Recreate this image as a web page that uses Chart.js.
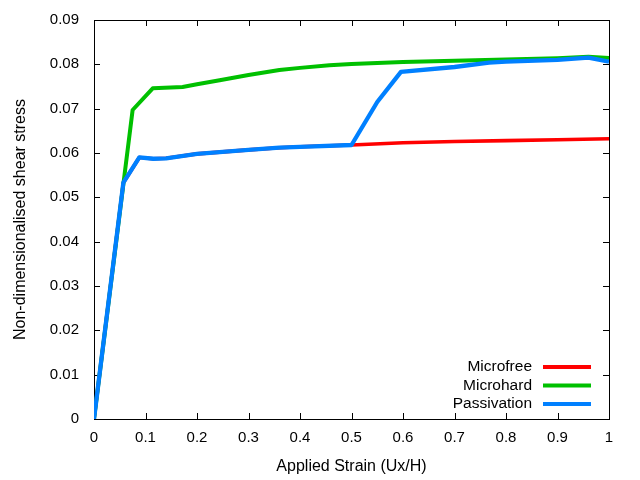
<!DOCTYPE html>
<html>
<head>
<meta charset="utf-8">
<script src="https://cdn.jsdelivr.net/npm/chart.js@4/dist/chart.umd.min.js"></script>
<style>
html,body{margin:0;padding:0;background:#fff;}
#wrap{width:640px;height:480px;}
</style>
</head>
<body>
<div id="wrap"><canvas id="c" width="640" height="480"></canvas></div>
<script>
const xTickLabels = ["0","0.1","0.2","0.3","0.4","0.5","0.6","0.7","0.8","0.9","1"];
const yTickLabels = ["0","0.01","0.02","0.03","0.04","0.05","0.06","0.07","0.08","0.09"];

const seriesNames = ["Microfree", "Microhard", "Passivation"];
const seriesColors = ["#ff0000", "#00c000", "#0080ff"];
const seriesWidths = [3.6, 4, 4.3];

const microfreeX = [0, 0.057, 0.088, 0.115, 0.14, 0.2, 0.3, 0.36, 0.4, 0.5, 0.6, 0.7, 0.8, 0.9, 1.0];
const microfreeY = [0, 0.0533, 0.0590, 0.0587, 0.0588, 0.0598, 0.0607, 0.0612, 0.0614, 0.0618, 0.0623, 0.0626, 0.0628, 0.0630, 0.0632];

const microhardX = [0, 0.075, 0.114, 0.172, 0.2, 0.244, 0.3, 0.36, 0.4, 0.457, 0.5, 0.6, 0.7, 0.8, 0.9, 0.96, 1.0];
const microhardY = [0, 0.0697, 0.0746, 0.0749, 0.0755, 0.0764, 0.0776, 0.0787, 0.0792, 0.0798, 0.0801, 0.0805, 0.0808, 0.0811, 0.0814, 0.0817, 0.0814];

const passivationX = [0, 0.057, 0.088, 0.115, 0.14, 0.2, 0.3, 0.36, 0.4, 0.5, 0.55, 0.596, 0.7, 0.767, 0.8, 0.9, 0.96, 1.0];
const passivationY = [0, 0.0533, 0.0590, 0.0587, 0.0588, 0.0598, 0.0607, 0.0612, 0.0614, 0.0618, 0.0715, 0.0783, 0.0794, 0.0804, 0.0806, 0.0810, 0.0815, 0.0806];

function pts(xs, ys){ return xs.map((x,i)=>({x:x, y:ys[i]})); }

const FONT = "'Liberation Sans', Arial, sans-serif";
Chart.defaults.font.family = FONT;
Chart.defaults.font.size = 15;
Chart.defaults.color = '#000';

const frameAndLegend = {
  id: 'frameAndLegend',
  beforeDatasetsDraw(chart){
    const {ctx, chartArea:a, scales} = chart;
    ctx.save();
    ctx.strokeStyle = '#000';
    ctx.lineWidth = 1;
    ctx.strokeRect(a.left+0.5, a.top+0.5, a.right-a.left, a.bottom-a.top);
    const tl = 6;
    ctx.beginPath();
    scales.x.ticks.forEach(t=>{
      const px = Math.round(scales.x.getPixelForValue(t.value))+0.5;
      ctx.moveTo(px, a.bottom); ctx.lineTo(px, a.bottom-tl);
      ctx.moveTo(px, a.top); ctx.lineTo(px, a.top+tl);
    });
    scales.y.ticks.forEach(t=>{
      const py = Math.round(scales.y.getPixelForValue(t.value))+0.5;
      ctx.moveTo(a.left, py); ctx.lineTo(a.left+tl, py);
      ctx.moveTo(a.right, py); ctx.lineTo(a.right-tl, py);
    });
    ctx.stroke();
    ctx.restore();
  },
  afterDraw(chart){
    const {ctx} = chart;
    ctx.save();
    ctx.font = "15.5px " + FONT;
    ctx.textAlign = 'right';
    ctx.textBaseline = 'middle';
    const rows = [367, 385.5, 404];
    chart.data.datasets.forEach((ds,i)=>{
      const y = rows[i];
      ctx.fillStyle = '#000';
      ctx.fillText(ds.label, 532, y);
      ctx.strokeStyle = ds.borderColor;
      ctx.lineWidth = 4;
      ctx.beginPath();
      ctx.moveTo(543, y); ctx.lineTo(591, y);
      ctx.stroke();
    });
    ctx.restore();
  }
};

const datasets = [
  {label: seriesNames[0], data: pts(microfreeX, microfreeY), order: 3},
  {label: seriesNames[1], data: pts(microhardX, microhardY), order: 2},
  {label: seriesNames[2], data: pts(passivationX, passivationY), order: 1}
].map((d,i)=>Object.assign(d, {
  borderColor: seriesColors[i],
  backgroundColor: seriesColors[i],
  borderWidth: seriesWidths[i],
  pointRadius: 0,
  showLine: true,
  fill: false,
  tension: 0,
  borderJoinStyle: 'round'
}));

new Chart(document.getElementById('c'), {
  type: 'scatter',
  data: {datasets},
  options: {
    responsive: false,
    animation: false,
    devicePixelRatio: 1,
    layout: {padding: {top: 20, right: 31, left: 0, bottom: 0}},
    plugins: {legend: {display: false}, tooltip: {enabled: false}},
    scales: {
      x: {
        type: 'linear', min: 0, max: 1,
        grid: {display: false, drawTicks: false},
        border: {display: false},
        ticks: {stepSize: 0.1, padding: 10, maxRotation: 0, autoSkip: false,
          callback: (v, i) => xTickLabels[i]},
        title: {display: true, text: 'Applied Strain (Ux/H)', font: {size: 16}, padding: {top: 0, bottom: 4}},
        afterFit: s => { s.height = 61; s.paddingLeft = 0; s.paddingRight = 0; }
      },
      y: {
        type: 'linear', min: 0, max: 0.09,
        grid: {display: false, drawTicks: false},
        border: {display: false},
        ticks: {stepSize: 0.01, padding: 15, autoSkip: false,
          callback: (v, i) => yTickLabels[i]},
        title: {display: true, text: 'Non-dimensionalised shear stress', font: {size: 16}, padding: {top: 11, bottom: 0}},
        afterFit: s => { s.width = 94; s.paddingTop = 0; s.paddingBottom = 0; }
      }
    }
  },
  plugins: [frameAndLegend]
});
</script>
</body>
</html>
